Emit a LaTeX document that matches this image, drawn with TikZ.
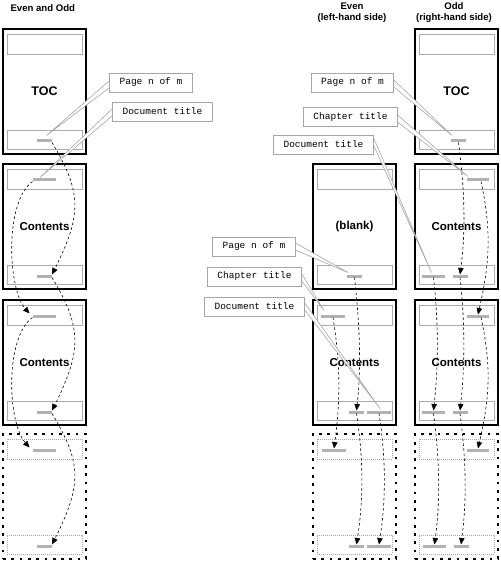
\documentclass[tikz,border=0pt]{standalone}
\usepackage{fontspec}
\setmainfont{Liberation Sans}
\setmonofont{Liberation Mono}
\usetikzlibrary{calc,arrows.meta}
\newcommand\mkpage[5]{%
  \node[#4] (#1) at (#2,#3) {};
  \node[#5] (#1hb) at ($(#1.north)+(0,15)$) {};
  \node[#5, minimum height=19pt] (#1fb) at ($(#1.south)+(0,-14.5)$) {};
}
\begin{document}
\begin{tikzpicture}[x=1pt,y=-1pt,
  pagebox/.style={draw=black, line width=1.8pt, minimum width=83pt, minimum height=125pt, anchor=north west, inner sep=0pt, outer sep=0pt},
  dotpage/.style={draw=black, line width=2.6pt, dash pattern=on 2.7pt off 5.6pt, minimum width=83pt, minimum height=125pt, anchor=north west, inner sep=0pt, outer sep=0pt},
  inbox/.style={draw=gray!65, line width=0.7pt, minimum width=75pt, minimum height=20pt, inner sep=0pt},
  dotbox/.style={draw=gray!70, line width=0.6pt, dash pattern=on 0.8pt off 1.2pt, minimum width=75pt, minimum height=20pt, inner sep=0pt},
  bar/.style={fill=gray!60, minimum height=3pt, inner sep=0pt, outer sep=0pt},
  ptitle/.style={font=\bfseries\fontsize{11.5}{13}\selectfont},
  heading/.style={font=\bfseries\fontsize{9.6}{11.5}\selectfont, align=center},
  callout/.style={draw=gray!70, line width=0.8pt, fill=white, font=\ttfamily\fontsize{9.5}{11}\selectfont, minimum height=19pt, inner xsep=10pt, inner ysep=0pt, outer sep=0pt},
  wedge/.style={draw=gray!70, fill=white, line width=0.6pt},
  flow/.style={draw=black, line width=0.6pt, dash pattern=on 2.5pt off 2.5pt, -{Triangle[length=6.5pt,width=5.5pt]}}
]
\useasboundingbox (0,0) rectangle (500,561);

% headings
\node[heading, anchor=west] (hL) at (7,8) {Even and Odd};
\node[heading] (hE) at (352,12.5) {Even\\(left-hand side)};
\node[heading] (hO) at (454,12.5) {Odd\\(right-hand side)};

% pages
\mkpage{L1}{3}{29}{pagebox}{inbox}
\mkpage{L2}{3}{164}{pagebox}{inbox}
\mkpage{L3}{3}{300}{pagebox}{inbox}
\mkpage{L4}{3}{434}{dotpage}{dotbox}
\mkpage{E2}{313}{164}{pagebox}{inbox}
\mkpage{E3}{313}{300}{pagebox}{inbox}
\mkpage{E4}{313}{434}{dotpage}{dotbox}
\mkpage{O1}{415}{29}{pagebox}{inbox}
\mkpage{O2}{415}{164}{pagebox}{inbox}
\mkpage{O3}{415}{300}{pagebox}{inbox}
\mkpage{O4}{415}{434}{dotpage}{dotbox}

% page titles
\node[ptitle, font=\bfseries\fontsize{12.5}{14}\selectfont] (L1t) at (L1.center) {TOC};
\node[ptitle] (L2t) at (L2.center) {Contents};
\node[ptitle] (L3t) at (L3.center) {Contents};
\node[ptitle] (E2t) at (E2.center) {(blank)};
\node[ptitle] (E3t) at (E3.center) {Contents};
\node[ptitle, font=\bfseries\fontsize{12.5}{14}\selectfont] (O1t) at (O1.center) {TOC};
\node[ptitle] (O2t) at (O2.center) {Contents};
\node[ptitle] (O3t) at (O3.center) {Contents};

% bars
\node[bar, minimum width=15pt] (L1f) at (44.5,141) {};
\node[bar, minimum width=23pt] (L2h) at (44,180) {};
\node[bar, minimum width=15pt] (L2f) at (44.5,276) {};
\node[bar, minimum width=23pt] (L3h) at (44,316) {};
\node[bar, minimum width=15pt] (L3f) at (44.5,412) {};
\node[bar, minimum width=23pt] (L4h) at (44,450) {};
\node[bar, minimum width=15pt] (L4f) at (44.5,546) {};

\node[bar, minimum width=15pt] (O1f) at (458.5,141) {};
\node[bar, minimum width=22pt] (O2h) at (478,180) {};
\node[bar, minimum width=23pt] (O2fd) at (433.5,276) {};
\node[bar, minimum width=15pt] (O2fp) at (460,276) {};
\node[bar, minimum width=22pt] (O3h) at (478,316) {};
\node[bar, minimum width=23pt] (O3fd) at (433.5,412) {};
\node[bar, minimum width=15pt] (O3fp) at (460,412) {};
\node[bar, minimum width=22pt] (O4h) at (478,450) {};
\node[bar, minimum width=23pt] (O4fd) at (434.5,546) {};
\node[bar, minimum width=15pt] (O4fp) at (461,546) {};

\node[bar, minimum width=15pt] (E2f) at (354.5,276) {};
\node[bar, minimum width=24pt] (E3h) at (333,316) {};
\node[bar, minimum width=15pt] (E3fp) at (356.5,412) {};
\node[bar, minimum width=24pt] (E3fd) at (379,412) {};
\node[bar, minimum width=24pt] (E4h) at (334,450) {};
\node[bar, minimum width=15pt] (E4fp) at (356.5,546) {};
\node[bar, minimum width=24pt] (E4fd) at (379,546) {};

% flow arrows, left column
\draw[flow] (L1f.south east) .. controls +(30,50) and +(30,-60) .. (L2f.north east);
\draw[flow] (L2h.south west) .. controls +(-28,20) and +(-22,-25) .. ([shift={(-3,-1)}]L3h.north west);
\draw[flow] (L2f.south east) .. controls +(30,50) and +(30,-60) .. (L3f.north east);
\draw[flow] (L3h.south west) .. controls +(-28,20) and +(-22,-25) .. ([shift={(-3,-1)}]L4h.north west);
\draw[flow] (L3f.south east) .. controls +(30,50) and +(30,-60) .. (L4f.north east);

% odd column
\draw[flow] (O1f.south) .. controls +(6,45) and +(6,-45) .. (O2fp.north);
\draw[flow] ([xshift=3]O2h.south) .. controls +(12,55) and +(10,-45) .. (O3h.north);
\draw[flow] (O2fd.south) .. controls +(5,45) and +(5,-45) .. (O3fd.north);
\draw[flow] (O2fp.south) .. controls +(5,45) and +(5,-45) .. (O3fp.north);
\draw[flow] ([xshift=3]O3h.south) .. controls +(12,55) and +(10,-45) .. (O4h.north);
\draw[flow] (O3fd.south) .. controls +(6,45) and +(6,-45) .. (O4fd.north);
\draw[flow] (O3fp.south) .. controls +(6,45) and +(6,-45) .. (O4fp.north);

% even column
\draw[flow] (E2f.south) .. controls +(5,45) and +(5,-45) .. (E3fp.north);
\draw[flow] (E3h.south) .. controls +(8,50) and +(6,-45) .. (E4h.north);
\draw[flow] (E3fp.south) .. controls +(7,45) and +(7,-45) .. (E4fp.north);
\draw[flow] (E3fd.south) .. controls +(7,45) and +(7,-45) .. (E4fd.north);

% callout labels
\path (151,82.5) coordinate (cLPn) (162.5,111.5) coordinate (cLDt)
      (352.5,82.5) coordinate (cRPn) (350.5,117) coordinate (cRCt) (323.5,144.5) coordinate (cRDt)
      (254,246.5) coordinate (cEPn) (254.5,276.5) coordinate (cECt) (254.5,306.5) coordinate (cEDt);
\node[callout] (LPn) at (cLPn) {Page n of m};
\node[callout] (LDt) at (cLDt) {Document title};
\node[callout] (RPn) at (cRPn) {Page n of m};
\node[callout] (RCt) at (cRCt) {Chapter title};
\node[callout] (RDt) at (cRDt) {Document title};
\node[callout] (EPn) at (cEPn) {Page n of m};
\node[callout] (ECt) at (cECt) {Chapter title};
\node[callout] (EDt) at (cEDt) {Document title};

% wedges
\filldraw[wedge] ($(LPn.west)+(0,-2)$) -- ([shift={(2,-4)}]L1f.north) -- ($(LPn.west)+(0,5)$) -- cycle;
\filldraw[wedge] ($(LDt.west)+(0,-3)$) -- ([shift={(-4,-1)}]L2h.north) -- ($(LDt.west)+(0,4)$) -- cycle;
\filldraw[wedge] ($(RPn.east)+(0,-2.5)$) -- ([shift={(1,-4)}]O1f.north west) -- ($(RPn.east)+(0,4.5)$) -- cycle;
\filldraw[wedge] ($(RCt.east)+(0,-2)$) -- ([shift={(1,-2)}]O2h.north west) -- ($(RCt.east)+(0,5)$) -- cycle;
\filldraw[wedge] ($(RDt.east)+(0,-7)$) -- ([shift={(-2,-2)}]O2fd.north) -- ($(RDt.east)+(0,0.5)$) -- cycle;
\filldraw[wedge] ($(EPn.east)+(0,-3.5)$) -- ([shift={(1,-2)}]E2f.north west) -- ($(EPn.east)+(0,3.5)$) -- cycle;
\filldraw[wedge] ($(ECt.east)+(0,-3)$) -- ([shift={(3,-4)}]E3h.north west) -- ($(ECt.east)+(0,4)$) -- cycle;
\filldraw[wedge] ($(EDt.east)+(0,-4)$) -- ([shift={(1,-2)}]E3fd.north) -- ($(EDt.east)+(0,3)$) -- cycle;

% labels on top of their wedges
\node[callout] at (LPn) {Page n of m};
\node[callout] at (LDt) {Document title};
\node[callout] at (RPn) {Page n of m};
\node[callout] at (RCt) {Chapter title};
\node[callout] at (RDt) {Document title};
\node[callout] at (EPn) {Page n of m};
\node[callout] at (ECt) {Chapter title};
\node[callout] at (EDt) {Document title};
\end{tikzpicture}
\end{document}
